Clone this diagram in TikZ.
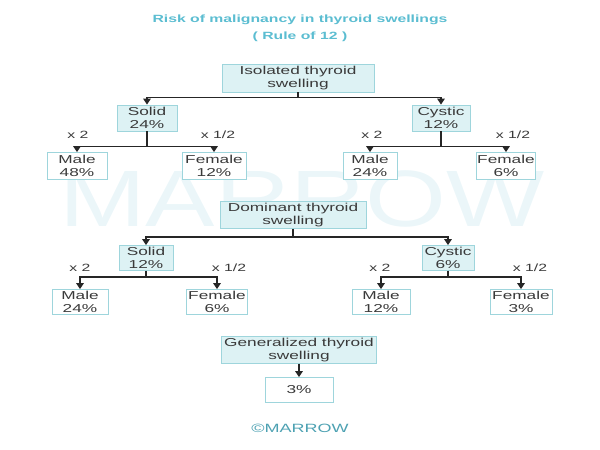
\documentclass[tikz,border=0pt]{standalone}
\usepackage{fontspec}
\setmainfont{Liberation Sans}[FakeStretch=1.5]
\newfontfamily\wmfont{Liberation Sans}[FakeStretch=1.3]
\usetikzlibrary{arrows.meta}
\definecolor{titleblue}{HTML}{5BBDD1}
\definecolor{boxfill}{HTML}{DDF2F4}
\definecolor{boxline}{HTML}{9ED5DC}
\definecolor{inkgrey}{HTML}{3A3A3A}
\definecolor{markcol}{HTML}{EBF6F9}
\begin{document}
\begin{tikzpicture}[
    x=1pt, y=-1pt,
    box/.style={rectangle, draw=boxline, line width=0.8pt, fill=boxfill, align=center, inner sep=1pt,
        text=inkgrey, font=\fontsize{11.5}{13.5}\selectfont},
    leaf/.style={box, fill=white},
    link/.style={-{Triangle[width=7.5pt,length=6pt]}, line width=1.6pt, draw=black!85},
    factor/.style={text=inkgrey, font=\fontsize{10.5}{12}\selectfont}
]
    \useasboundingbox (0,0) rectangle (600,450);

    % Watermark
    \node[text=markcol, font=\wmfont\fontsize{80}{80}\selectfont] (mark) at (302,199) {MARROW};

    % Title
    \node[text=titleblue, font=\bfseries\fontsize{10.5}{12}\selectfont] (title) at (300,20) {Risk of malignancy in thyroid swellings};
    \node[text=titleblue, font=\bfseries\fontsize{10.5}{12}\selectfont] (rule) at (300,37) {( Rule of 12 )};

    % Isolated thyroid swelling
    \node[box, minimum width=152pt, minimum height=28pt] (iso) at (298,78) {Isolated thyroid\\swelling};
    \node[box, minimum width=60pt, minimum height=26pt] (solidA) at (147,118) {Solid\\24\%};
    \node[box, minimum width=58pt, minimum height=26pt] (cystA) at (441,118) {Cystic\\12\%};
    \node[leaf, minimum width=60pt, minimum height=27pt] (maleA) at (77,166) {Male\\48\%};
    \node[leaf, minimum width=64pt, minimum height=27pt] (femaleA) at (214,166) {Female\\12\%};
    \node[leaf, minimum width=54pt, minimum height=27pt] (maleB) at (370,166) {Male\\24\%};
    \node[leaf, minimum width=58pt, minimum height=27pt] (femaleB) at (506,166) {Female\\6\%};

    \draw[link] (iso.south) -- ++(0,5) -| (solidA.north);
    \draw[link] (iso.south) -- ++(0,5) -| (cystA.north);
    \draw[link] (solidA.south) -- ++(0,15) -| (maleA.north);
    \draw[link] (solidA.south) -- ++(0,15) -| (femaleA.north);
    \draw[link] (cystA.south) -- ++(0,15) -| (maleB.north);
    \draw[link] (cystA.south) -- ++(0,15) -| (femaleB.north);

    \node[factor] (fA1) at (78,135) {x 2};
    \node[factor] (fA2) at (218,135) {x 1/2};
    \node[factor] (fB1) at (372,135) {x 2};
    \node[factor] (fB2) at (513,135) {x 1/2};

    % Dominant thyroid swelling
    \node[box, minimum width=146pt, minimum height=27pt] (dom) at (293,215) {Dominant thyroid\\swelling};
    \node[box, minimum width=54pt, minimum height=25pt] (solidC) at (146,258) {Solid\\12\%};
    \node[box, minimum width=52pt, minimum height=25pt] (cystC) at (448,258) {Cystic\\6\%};
    \node[leaf, minimum width=56pt, minimum height=25pt] (maleC) at (80,302) {Male\\24\%};
    \node[leaf, minimum width=61pt, minimum height=25pt] (femaleC) at (217,302) {Female\\6\%};
    \node[leaf, minimum width=58pt, minimum height=25pt] (maleD) at (381,302) {Male\\12\%};
    \node[leaf, minimum width=62pt, minimum height=25pt] (femaleD) at (521,302) {Female\\3\%};

    \draw[link] (dom.south) -- ++(0,8) -| (solidC.north);
    \draw[link] (dom.south) -- ++(0,8) -| (cystC.north);
    \draw[link] (solidC.south) -- ++(0,6) -| (maleC.north);
    \draw[link] (solidC.south) -- ++(0,6) -| (femaleC.north);
    \draw[link] (cystC.south) -- ++(0,6) -| (maleD.north);
    \draw[link] (cystC.south) -- ++(0,6) -| (femaleD.north);

    \node[factor] (fC1) at (80,268) {x 2};
    \node[factor] (fC2) at (229,268) {x 1/2};
    \node[factor] (fD1) at (380,268) {x 2};
    \node[factor] (fD2) at (530,268) {x 1/2};

    % Generalized thyroid swelling
    \node[box, minimum width=155pt, minimum height=26pt] (gen) at (299,350) {Generalized thyroid\\swelling};
    \node[leaf, minimum width=68pt, minimum height=25pt] (pct) at (299,390) {3\%};
    \draw[link] (gen.south) -- (pct.north);

    % Footer
    \node[text=titleblue!85!black, font=\fontsize{12}{14}\selectfont] (brand) at (300,428) {©MARROW};
\end{tikzpicture}
\end{document}
